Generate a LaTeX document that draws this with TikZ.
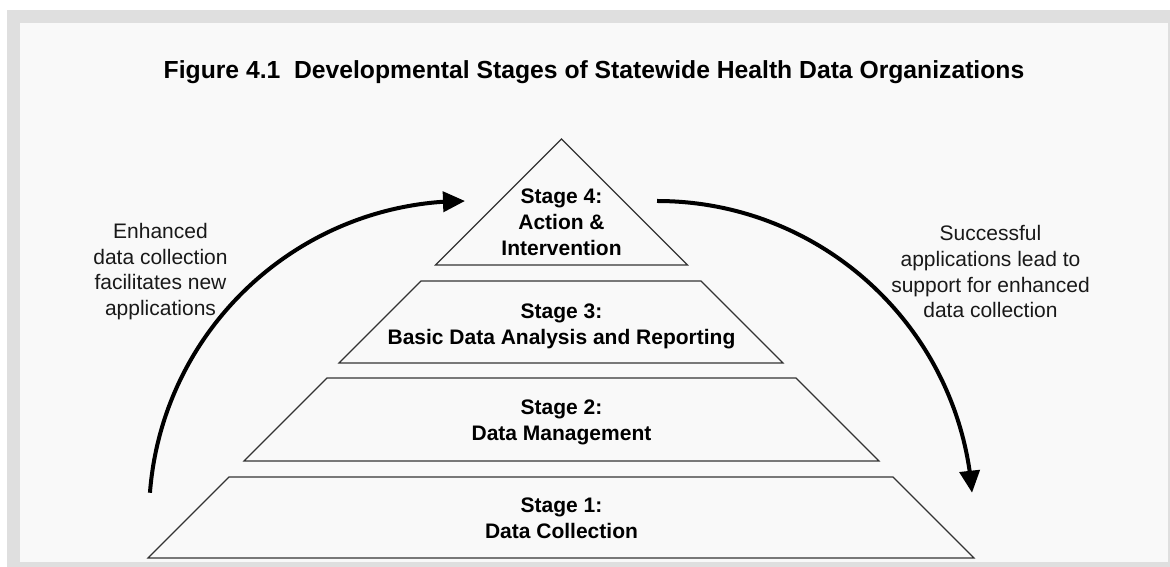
\documentclass[tikz,border=0pt]{standalone}
\usepackage{fontspec}
\setmainfont{Liberation Sans}
\usetikzlibrary{arrows.meta,bending}
\definecolor{frame}{HTML}{DFDFDF}
\definecolor{panel}{HTML}{F9F9F9}
\definecolor{edge}{HTML}{333333}
\begin{document}
\begin{tikzpicture}[x=1pt,y=1pt,
  layer/.style={draw=edge, line width=1.2pt, line join=miter},
  stagetext/.style={font=\bfseries\fontsize{21}{26}\selectfont, align=center, anchor=base, inner sep=0pt},
  sidetext/.style={font=\fontsize{21}{25.7}\selectfont, align=center, anchor=base, inner sep=0pt, text=black!90},
  cyclearrow/.style={line width=4pt, -{Triangle[length=22pt,width=20pt,flex]}}]
\useasboundingbox (0,0) rectangle (1170,567);
\fill[white] (0,0) rectangle (1170,567);
\fill[frame] (7,0) rectangle (1170,557);
\fill[panel] (20,5) rectangle (1168,544);

% title
\node[font=\bfseries\fontsize{24.7}{29}\selectfont, anchor=base, inner sep=0pt] (title) at (594,488.3)
  {Figure 4.1\ \ Developmental Stages of Statewide Health Data Organizations};

% pyramid layers
\draw[layer] (148,9) coordinate (s1bl) -- (974,9) coordinate (s1br) -- (893,90) coordinate (s1tr) -- (229,90) coordinate (s1tl) -- cycle;
\draw[layer] (244,106) coordinate (s2bl) -- (879,106) coordinate (s2br) -- (796,189) coordinate (s2tr) -- (327,189) coordinate (s2tl) -- cycle;
\draw[layer] (339,204) coordinate (s3bl) -- (783,204) coordinate (s3br) -- (701,286) coordinate (s3tr) -- (421,286) coordinate (s3tl) -- cycle;
\draw[layer] (435.5,302) coordinate (s4bl) -- (687.5,302) coordinate (s4br) -- (561.5,428) coordinate (s4top) -- cycle;

% stage labels (base = baseline of last line)
\node[stagetext] (stage4) at (561.5,311.5) {Stage 4:\\Action \&\\Intervention};
\node[stagetext] (stage3) at (561.5,222.5) {Stage 3:\\Basic Data Analysis and Reporting};
\node[stagetext] (stage2) at (561.5,126.5) {Stage 2:\\Data Management};
\node[stagetext] (stage1) at (561.5,28.5) {Stage 1:\\Data Collection};

% side labels
\node[sidetext] (lefttext) at (160.5,251.5) {Enhanced\\data collection\\facilitates new\\applications};
\node[sidetext] (righttext) at (990.5,249) {Successful\\applications lead to\\support for enhanced\\data collection};

% cycle arrows
\coordinate (lstart) at ({465+316*cos(175.6)},{50+316*sin(175.6)});
\coordinate (rstart) at (657,366);
\draw[cyclearrow] (lstart) arc[start angle=175.6, end angle=90, radius=316];
\draw[cyclearrow] (rstart) arc[start angle=90, end angle=4.4, radius=316];
\end{tikzpicture}
\end{document}
